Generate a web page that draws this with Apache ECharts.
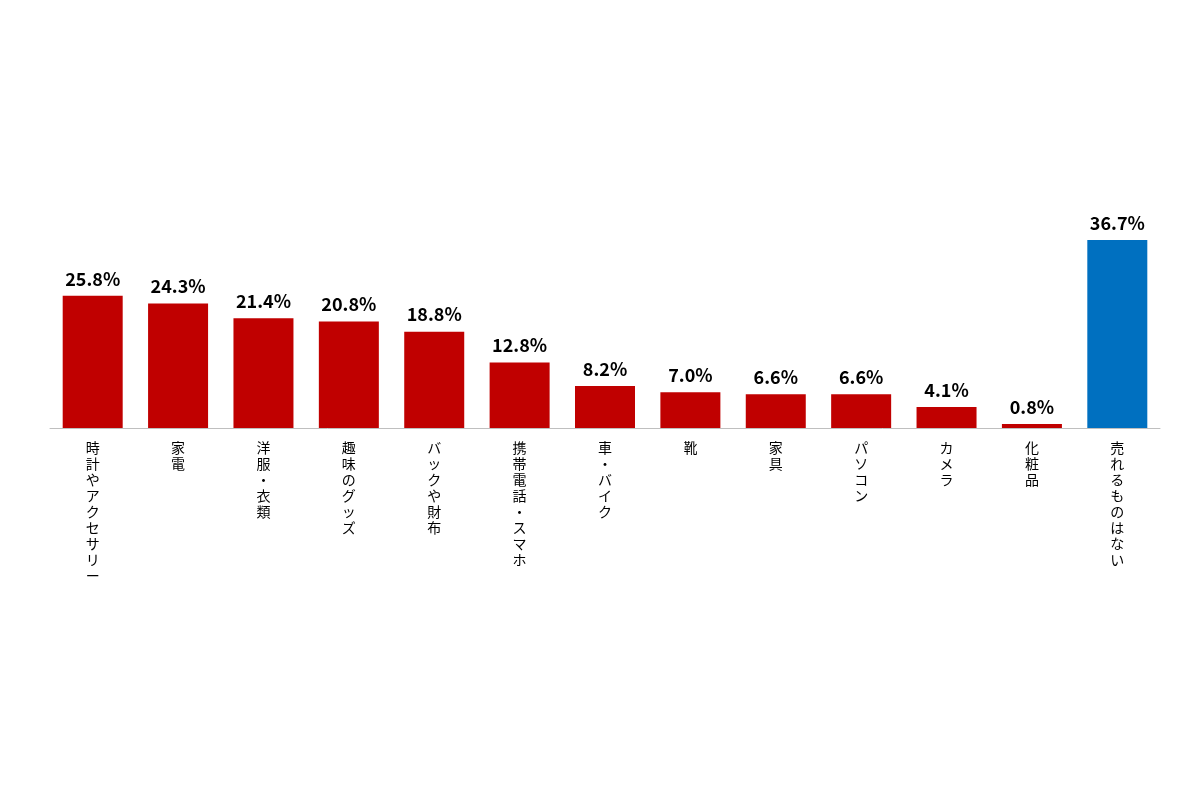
<!DOCTYPE html>
<html><head><meta charset="utf-8">
<script src="https://cdn.jsdelivr.net/npm/echarts@6/dist/echarts.min.js"></script>
<style>html,body{margin:0;background:#fff}#c{width:1200px;height:800px}</style>
</head><body><div id="c"></div>
<script>
const categories = ['時計やアクセサリー','家電','洋服・衣類','趣味のグッズ','バックや財布','携帯電話・スマホ','車・バイク','靴','家具','パソコン','カメラ','化粧品','売れるものはない']
const values = [25.8,24.3,21.4,20.8,18.8,12.8,8.2,7.0,6.6,6.6,4.1,0.8,36.7]

const chart = echarts.init(document.getElementById('c'))
chart.setOption({
    animation: false,
    grid: { left: 50, right: 40, top: 223, bottom: 372 },
    xAxis: {
        type: 'category',
        data: categories,
        axisLine: { lineStyle: { color: '#bfbfbf', width: 1 } },
        axisTick: { show: false },
        axisLabel: {
            interval: 0,
            margin: 12,
            verticalAlign: 'top',
            color: '#000',
            fontSize: 14,
            lineHeight: 16,
            fontFamily: 'Noto Sans CJK JP',
            formatter: v => v.split('').join('\n')
        }
    },
    yAxis: { type: 'value', min: 0, max: 40, show: false, splitLine: { show: false } },
    series: [{
        type: 'bar',
        barWidth: 60,
        data: values.map((v, i) => ({
            value: v,
            itemStyle: { color: i === values.length - 1 ? '#0070c0' : '#c00000' }
        })),
        label: {
            show: true,
            position: 'top',
            distance: 8,
            formatter: p => p.value.toFixed(1) + '%',
            color: '#000',
            fontSize: 18,
            fontWeight: 'bold',
            fontFamily: 'Noto Sans CJK JP'
        }
    }]
})
</script>
</body></html>
